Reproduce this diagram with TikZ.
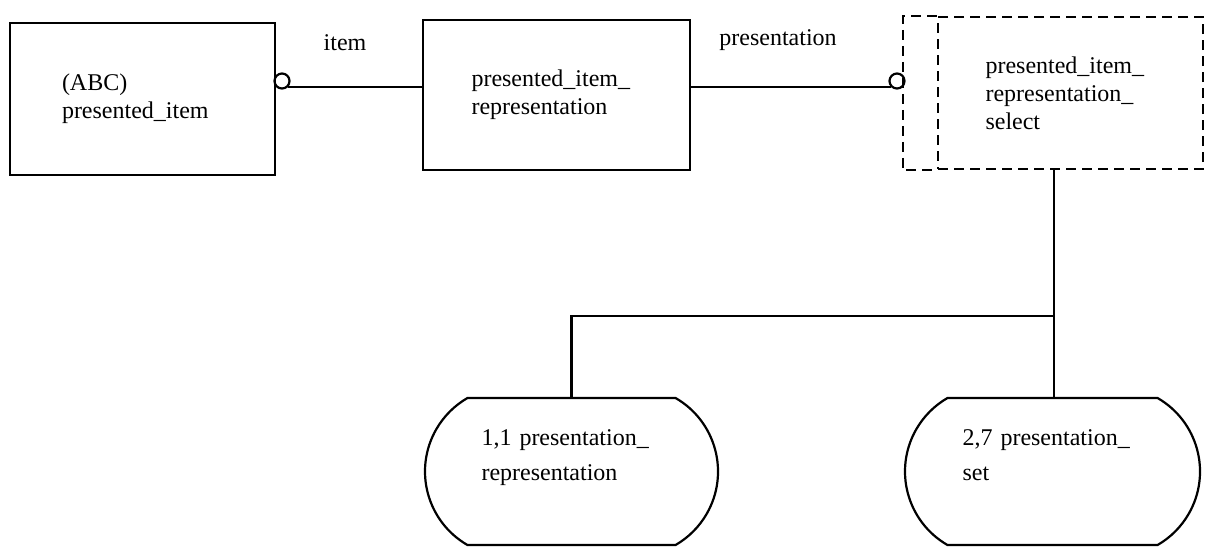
\documentclass[tikz,border=0pt]{standalone}
\usepackage{fontspec}
\setmainfont{Liberation Serif}
\usepackage{tikz}
\usetikzlibrary{shapes, positioning}

\begin{document}
\begin{tikzpicture}[
        x=0.5pt, y=-0.5pt,
        every node/.style={font=\fontsize{12}{14}\selectfont},
        entity/.style={
            rectangle, draw, line width=1.1pt, align=left, inner sep=0pt
        },
        selbox/.style={
            rectangle, draw, line width=1.2pt, dash pattern=on 5pt off 3pt,
            align=left, inner sep=0pt
        },
        subtype/.style={
            rounded rectangle, rounded rectangle arc length=120, draw, line width=1.1pt,
            align=left, inner sep=0pt, text depth=34pt, font=\fontsize{12}{17.5}\selectfont
        },
        ring/.style={circle, draw, line width=1.1pt, minimum size=7.5pt, inner sep=0pt},
        link/.style={line width=1.1pt},
        role/.style={inner sep=0pt}
    ]
        \useasboundingbox (0,0) rectangle (1208,547);

        % Entities
        \node (pitem) [entity, minimum width=132.5pt, minimum height=76pt, text width=80.5pt]
            at (142.5,99) {(ABC)\\presented\_item};
        \node (pirep) [entity, minimum width=133.5pt, minimum height=75pt, text width=85pt]
            at (556.5,95) {presented\_item\_\\representation};
        \node (pisel) [selbox, minimum width=132.5pt, minimum height=76pt, text width=85pt]
            at (1070.5,93) {presented\_item\_\\representation\_\\select};
        \draw[selbox] (pisel.north west) -- ++(-34,0) |- (pisel.south west);

        % Subtypes
        \node (prep) [subtype, minimum width=146.5pt, minimum height=73.5pt, text width=90pt]
            at (571.5,471.5) {1,1 presentation\_\\representation};
        \node (pset) [subtype, minimum width=147.5pt, minimum height=73.5pt, text width=90pt]
            at (1052.5,471.5) {2,7 presentation\_\\set};

        % Optional ends
        \node (o1) [ring] at (282,81) {};
        \node (o2) [ring] at (897,81) {};

        % Relationships
        \draw[link] (o1.south east) -- (o1.south east -| pirep.west);
        \draw[link] (o2.south west -| pirep.east) -- (o2.south west);
        \node (litem) [role] at (345,43) {item};
        \node (lpres) [role] at (778,40) {presentation};

        % Subtype tree
        \coordinate (jn) at (1054,316);
        \draw[link] (pisel.south -| jn) -- (jn |- pset.north);
        \draw[link] (prep.north) |- (jn);

    \end{tikzpicture}
\end{document}
